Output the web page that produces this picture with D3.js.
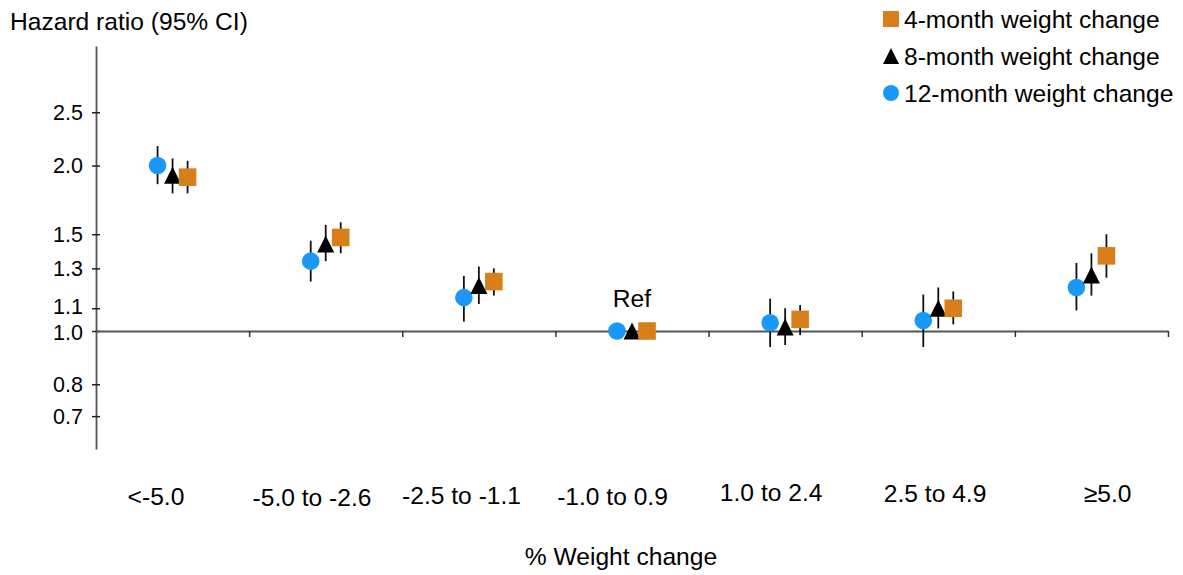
<!DOCTYPE html>
<html>
<head>
<meta charset="utf-8">
<script src="https://cdn.jsdelivr.net/npm/d3@7"></script>
<style>
  html, body { margin: 0; padding: 0; background: #fff; }
  svg { display: block; font-family: "Liberation Sans", Arial, sans-serif; }
</style>
</head>
<body>
<svg id="chart" width="1183" height="575"></svg>
<script>
// ---- data ----
const categories = ["<-5.0", "-5.0 to -2.6", "-2.5 to -1.1", "-1.0 to 0.9", "1.0 to 2.4", "2.5 to 4.9", "\u22655.0"];
const yTicks = [0.7, 0.8, 1.0, 1.1, 1.3, 1.5, 2.0, 2.5];
const seriesNames = ["4-month weight change", "8-month weight change", "12-month weight change"];

// 12-month (circle)
const hr12 = [2.00, 1.34, 1.15, 1.00, 1.035, 1.045, 1.20];
const lo12 = [1.85, 1.23, 1.04, null, 0.935, 0.935, 1.09];
const hi12 = [2.17, 1.46, 1.26, null, 1.145, 1.165, 1.33];
// 8-month (triangle)
const hr8 = [1.92, 1.44, 1.21, 1.00, 1.017, 1.10, 1.265];
const lo8 = [1.78, 1.34, 1.12, null, 0.943, 1.011, 1.16];
const hi8 = [2.06, 1.56, 1.31, null, 1.10, 1.20, 1.385];
// 4-month (square)
const hr4 = [1.905, 1.48, 1.23, 1.00, 1.05, 1.10, 1.37];
const lo4 = [1.78, 1.385, 1.16, null, 0.983, 1.028, 1.25];
const hi4 = [2.04, 1.577, 1.30, null, 1.115, 1.18, 1.50];

// ---- layout ----
const plot = { left: 96, right: 1168, top: 46, bottom: 449 };
const colors = { sq: "#d77f1b", tri: "#000000", circ: "#1a98f8" };
const labelDx = [-16.6, -13.7, -17.3, -19.5, -14, -3.2, 16.2];
const labelDy = [0, 1, -1, 0, -4, -3, -3];
const tickNudge = { "1.0": 1.5, "1.1": -1.5 };

const svg = d3.select("#chart");
const FS = 24.6;
const TFS = 21.5;

const y = d3.scaleLog().domain([0.61, 3.3]).range([plot.bottom, plot.top]);
const x = d3.scaleBand().domain(categories).range([plot.left, plot.right]).padding(0);
const xIdx = d3.scaleLinear().domain([0, categories.length]).range([plot.left, plot.right]);
const cx = c => x(c) + x.bandwidth() / 2;

// Y axis
const fmt = d3.format(".1f");
const yAxis = svg.append("g")
  .attr("transform", `translate(${plot.left},0)`)
  .call(d3.axisLeft(y).tickValues(yTicks).tickFormat(fmt)
        .tickSize(4).tickSizeOuter(0).tickPadding(9));
yAxis.select(".domain").attr("stroke", "#555").attr("stroke-width", 1.8);
yAxis.selectAll(".tick line").attr("x1", 4).attr("stroke", "#222").attr("stroke-width", 1.5);
yAxis.selectAll(".tick text").attr("font-size", TFS).attr("fill", "#000")
  .attr("font-family", "Liberation Sans, Arial, sans-serif")
  .attr("y", d => tickNudge[fmt(d)] || 0);

// X axis at HR = 1.0
const xAxis = svg.append("g")
  .attr("transform", `translate(0,${y(1)})`)
  .call(d3.axisBottom(xIdx).tickValues(d3.range(1, categories.length + 1))
        .tickFormat("").tickSize(6).tickSizeOuter(0));
xAxis.select(".domain").attr("stroke", "#555").attr("stroke-width", 1.8);
xAxis.selectAll(".tick line").attr("stroke", "#333").attr("stroke-width", 1.5);

// Category labels
svg.append("g").selectAll("text").data(categories).join("text")
  .attr("x", (d, i) => cx(d) + labelDx[i])
  .attr("y", (d, i) => 505 + labelDy[i])
  .attr("text-anchor", "middle")
  .attr("font-size", FS)
  .text(d => d);

// Titles
svg.append("text").attr("x", 10).attr("y", 30).attr("font-size", FS).text("Hazard ratio (95% CI)");
svg.append("text").attr("x", 621).attr("y", 565).attr("text-anchor", "middle").attr("font-size", FS).text("% Weight change");

// Custom isoceles triangle symbol (width = height)
const triType = {
  draw(ctx, size) {
    const s = Math.sqrt(size);
    ctx.moveTo(0, -s / 2);
    ctx.lineTo(s / 2, s / 2);
    ctx.lineTo(-s / 2, s / 2);
    ctx.closePath();
  }
};

const series = [
  { name: seriesNames[2], hr: hr12, lo: lo12, hi: hi12, off: -15, type: d3.symbolCircle, size: Math.PI * 8.8 * 8.8, lsize: Math.PI * 8 * 8, color: colors.circ },
  { name: seriesNames[1], hr: hr8, lo: lo8, hi: hi8, off: 0, type: triType, size: 17 * 17, lsize: 16 * 16, color: colors.tri },
  { name: seriesNames[0], hr: hr4, lo: lo4, hi: hi4, off: 15, type: d3.symbolSquare, size: 17.6 * 17.6, lsize: 16 * 16, color: colors.sq }
];

// CI lines (behind markers)
const ciG = svg.append("g");
series.forEach(s => {
  ciG.selectAll(null).data(categories.map((c, i) => ({ c, lo: s.lo[i], hi: s.hi[i] })).filter(d => d.lo != null))
    .join("line")
    .attr("x1", d => cx(d.c) + s.off).attr("x2", d => cx(d.c) + s.off)
    .attr("y1", d => y(d.hi)).attr("y2", d => y(d.lo))
    .attr("stroke", "#111").attr("stroke-width", 1.8);
});

// Markers
const mG = svg.append("g");
series.forEach(s => {
  mG.selectAll(null).data(categories.map((c, i) => ({ c, v: s.hr[i] })))
    .join("path")
    .attr("transform", d => `translate(${cx(d.c) + s.off},${y(d.v)})`)
    .attr("d", d3.symbol().type(s.type).size(s.size)())
    .attr("fill", s.color);
});

// Ref label
svg.append("text").attr("x", cx(categories[3])).attr("y", 307).attr("text-anchor", "middle")
  .attr("font-size", FS).text("Ref");

// Legend
const legendOrder = [series[2], series[1], series[0]];
const lg = svg.append("g");
legendOrder.forEach((s, i) => {
  const yy = 19 + i * 37;
  lg.append("path")
    .attr("transform", `translate(891,${yy})`)
    .attr("d", d3.symbol().type(s.type).size(s.lsize)())
    .attr("fill", s.color);
  lg.append("text").attr("x", 904).attr("y", yy).attr("dy", "0.36em")
    .attr("font-size", FS).text(s.name);
});
</script>
</body>
</html>
